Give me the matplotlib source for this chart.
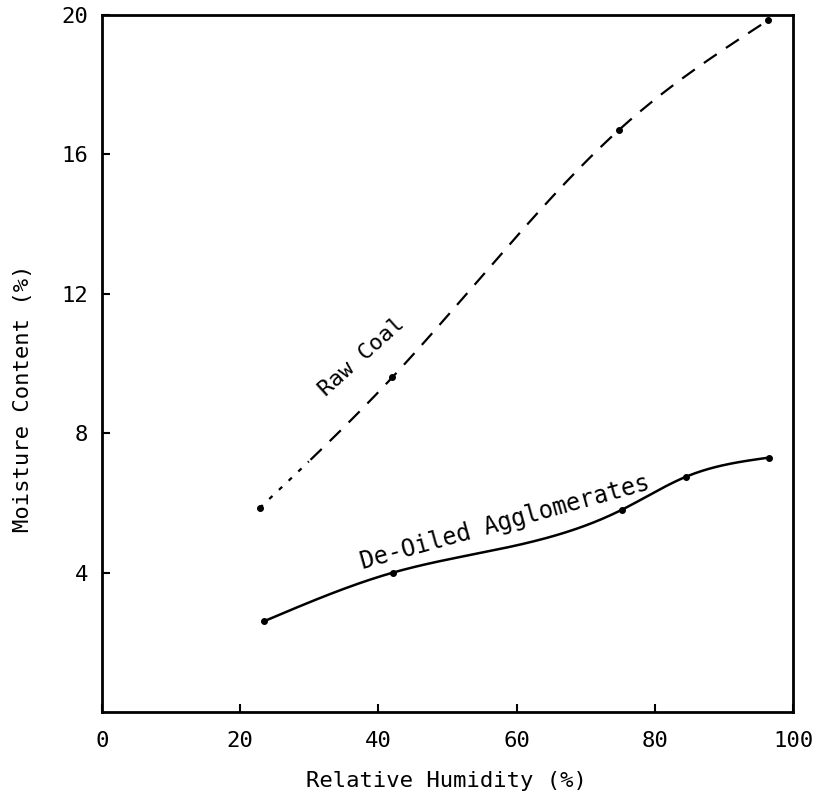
import numpy as np
import matplotlib
matplotlib.use("Agg")
import matplotlib.pyplot as plt

# data
raw_rh = [22.8, 42.0, 74.8, 96.4]
raw_mc = [5.85, 9.6, 16.7, 19.85]
deoil_rh = [23.4, 42.1, 75.2, 84.5, 96.5]
deoil_mc = [2.6, 4.0, 5.8, 6.75, 7.3]

x_ticks = [0, 20, 40, 60, 80, 100]
y_ticks = [4, 8, 12, 16, 20]


def natural_spline(x, y, xs):
    # natural cubic spline through the measured points (hand-drawn look)
    x = np.asarray(x, float)
    y = np.asarray(y, float)
    n = len(x)
    h = np.diff(x)
    A = np.zeros((n, n))
    b = np.zeros(n)
    A[0, 0] = A[-1, -1] = 1
    for i in range(1, n - 1):
        A[i, i - 1] = h[i - 1]
        A[i, i] = 2 * (h[i - 1] + h[i])
        A[i, i + 1] = h[i]
        b[i] = 6 * ((y[i + 1] - y[i]) / h[i] - (y[i] - y[i - 1]) / h[i - 1])
    M = np.linalg.solve(A, b)
    out = np.empty_like(xs)
    for j, xv in enumerate(xs):
        k = int(np.clip(np.searchsorted(x, xv) - 1, 0, n - 2))
        t1 = x[k + 1] - xv
        t0 = xv - x[k]
        out[j] = (M[k] * t1**3 + M[k + 1] * t0**3) / (6 * h[k]) \
            + (y[k] / h[k] - M[k] * h[k] / 6) * t1 \
            + (y[k + 1] / h[k] - M[k + 1] * h[k] / 6) * t0
    return out


plt.rcParams["font.family"] = ["DejaVu Sans Mono"]

fig = plt.figure(figsize=(8.21, 8.07), dpi=100)
ax = fig.add_axes([0.1242, 0.1177, 0.8417, 0.8637])

# raw coal: dashed curve, short dashes near the first point
xs = np.linspace(raw_rh[0], raw_rh[-1], 300)
ys = natural_spline(raw_rh, raw_mc, xs)
split = xs <= 30
ax.plot(xs[split], ys[split], color="black", lw=1.6, ls=(0, (2, 4)))
ax.plot(xs[~split], ys[~split], color="black", lw=1.6, ls=(0, (7, 5)))
ax.plot(raw_rh, raw_mc, "o", color="black", ms=4)

xs2 = np.linspace(deoil_rh[0], deoil_rh[-1], 300)
ax.plot(xs2, natural_spline(deoil_rh, deoil_mc, xs2), color="black", lw=1.8)
ax.plot(deoil_rh, deoil_mc, "o", color="black", ms=4)

ax.text(37.6, 10.2, "Raw Coal", rotation=42, fontsize=16,
        ha="center", va="center")
ax.text(58.3, 5.45, "De-Oiled Agglomerates", rotation=15.5, fontsize=17,
        ha="center", va="center")

ax.set_xlim(0, 100)
ax.set_ylim(0, 20)
ax.set_xticks(x_ticks)
ax.set_xticklabels([str(v) for v in x_ticks])
ax.set_yticks(y_ticks)
ax.set_yticklabels([str(v) for v in y_ticks])
ax.tick_params(direction="in", length=6, width=1.5, labelsize=16)
ax.tick_params(axis="x", pad=14)
ax.tick_params(axis="y", pad=10)
for s in ax.spines.values():
    s.set_linewidth(2)

ax.set_xlabel("Relative Humidity (%)", fontsize=16)
ax.set_ylabel("Moisture Content (%)", fontsize=16)
ax.xaxis.set_label_coords(0.498, -0.085)
ax.yaxis.set_label_coords(-0.1, 0.45)

fig.savefig("out.png", dpi=100)
